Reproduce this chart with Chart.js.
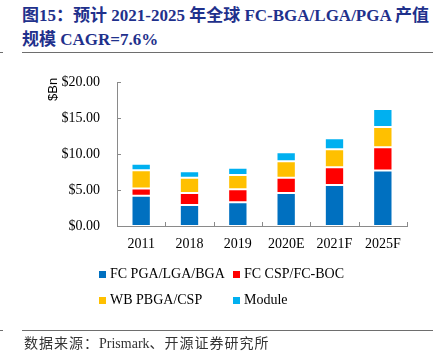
<!DOCTYPE html>
<html>
<head>
<meta charset="utf-8">
<script src="https://cdn.jsdelivr.net/npm/chart.js@4/dist/chart.umd.min.js"></script>
<style>
  html, body { margin:0; padding:0; background:#fff; width:442px; height:358px; overflow:hidden; position:relative; }
  #c { position:absolute; left:0; top:0; }
  .title { position:absolute; left:22px; font-family:"Liberation Serif","Times New Roman","Noto Sans CJK SC",serif; font-weight:bold; font-size:17px; color:#1F318C; white-space:nowrap; line-height:24px; }
  .hline { position:absolute; height:1px; background:#6e6e6e; }
  .ylab { position:absolute; font-family:"Liberation Sans",Arial,sans-serif; font-size:13px; line-height:15px; color:#000; transform-origin:left top; transform:rotate(-90deg); white-space:nowrap; }
  .legend { position:absolute; font-family:"Liberation Serif","Times New Roman",serif; font-size:14px; color:#000; white-space:nowrap; }
  .legend .item { position:absolute; line-height:16px; }
  .legend .sw { position:absolute; width:7px; height:7px; top:5px; }
  .src { position:absolute; left:24px; top:336px; font-family:"Liberation Serif","Times New Roman","Noto Sans CJK SC",serif; font-size:14px; line-height:16px; color:#333; white-space:nowrap; }
  .src .cjk { letter-spacing:1px; }
</style>
</head>
<body>
<div class="title" style="top:4px">图15：预计 2021-2025 年全球 FC-BGA/LGA/PGA 产值</div>
<div class="title" style="top:28px">规模 CAGR=7.6%</div>
<div class="hline" style="left:22px; width:411px; top:52px;"></div>
<div class="hline" style="left:0px; width:3px; top:52px;"></div>
<canvas id="c" width="442" height="358"></canvas>
<div class="ylab" style="left:45px; top:101px;">$Bn</div>
<div class="legend" id="legend"></div>
<div class="hline" style="left:22px; width:411px; top:330px;"></div>
<div class="hline" style="left:0px; width:3px; top:330px;"></div>
<div class="src"><span class="cjk">数据来源：</span>Prismark<span class="cjk">、开源证券研究所</span></div>
<script>
const categories = ['2011', '2018', '2019', '2020E', '2021F', '2025F'];
const seriesNames = ['FC PGA/LGA/BGA', 'FC CSP/FC-BOC', 'WB PBGA/CSP', 'Module'];
const fcPgaLgaBga = [4.2, 2.9, 3.3, 4.6, 5.7, 7.7];
const fcCspBoc    = [1.0, 1.7, 1.8, 2.1, 2.45, 3.25];
const wbPbgaCsp   = [2.55, 2.1, 2.0, 2.3, 2.5, 2.8];
const moduleVals  = [0.9, 0.9, 1.0, 1.25, 1.55, 2.5];
const yTicks = [0, 5, 10, 15, 20];
const colors = ['#0070C0', '#FF0000', '#FFC000', '#00B0F0'];

const seriesData = [fcPgaLgaBga, fcCspBoc, wbPbgaCsp, moduleVals];
const datasets = seriesData.map((d, i) => ({
  label: seriesNames[i],
  data: d,
  backgroundColor: colors[i],
  borderColor: 'rgba(255,255,255,0.35)',
  borderWidth: 1,
  borderSkipped: false,
  barPercentage: 0.4,
  categoryPercentage: 1.0
}));

const axisColor = '#8a8a8a';
const inwardTicks = {
  id: 'inwardTicks',
  afterDraw(chart) {
    const ctx = chart.ctx;
    const x = chart.scales.x, y = chart.scales.y;
    const area = chart.chartArea;
    ctx.save();
    ctx.strokeStyle = axisColor;
    ctx.lineWidth = 1;
    ctx.beginPath();
    y.ticks.forEach(t => {
      const py = Math.round(y.getPixelForValue(t.value)) + 0.5;
      ctx.moveTo(area.left, py);
      ctx.lineTo(area.left + 4, py);
    });
    const n = categories.length;
    const step = x.getPixelForValue(1) - x.getPixelForValue(0);
    for (let i = 1; i <= n; i++) {
      const px = Math.round(x.getPixelForValue(i - 1) + step / 2) + 0.5;
      ctx.moveTo(px, area.bottom);
      ctx.lineTo(px, area.bottom - 4);
    }
    ctx.stroke();
    ctx.restore();
  }
};

const serif = '"Liberation Serif","Times New Roman",serif';
new Chart(document.getElementById('c'), {
  type: 'bar',
  data: { labels: categories, datasets },
  plugins: [inwardTicks],
  options: {
    responsive: false,
    devicePixelRatio: 1,
    animation: false,
    layout: { padding: { left: 0, right: 35, top: 82, bottom: 0 } },
    plugins: { legend: { display: false }, tooltip: { enabled: false } },
    scales: {
      x: {
        stacked: true,
        grid: { display: false, drawTicks: false },
        border: { display: true, color: axisColor, width: 1 },
        ticks: { color: '#000', font: { family: serif, size: 14 }, padding: 10 },
        afterFit(s) { s.height = 132; }
      },
      y: {
        stacked: true,
        min: 0, max: 20,
        grid: { display: false, drawTicks: false },
        border: { display: true, color: axisColor, width: 1 },
        afterBuildTicks(axis) { axis.ticks = yTicks.map(v => ({ value: v })); },
        ticks: { color: '#000', font: { family: serif, size: 14 }, padding: 17,
                 callback: v => '$' + Number(v).toFixed(2) },
        afterFit(s) { s.width = 117; }
      }
    }
  }
});

// HTML legend built from the series arrays
const lg = document.getElementById('legend');
const pos = [[99, 266], [233, 266], [99, 292], [233, 292]];
seriesNames.forEach((name, i) => {
  const it = document.createElement('div');
  it.className = 'item';
  it.style.left = pos[i][0] + 'px';
  it.style.top = pos[i][1] + 'px';
  it.innerHTML = '<span class="sw" style="left:0;background:' + colors[i] + '"></span><span style="padding-left:11px">' + name + '</span>';
  lg.appendChild(it);
});
</script>
</body>
</html>
